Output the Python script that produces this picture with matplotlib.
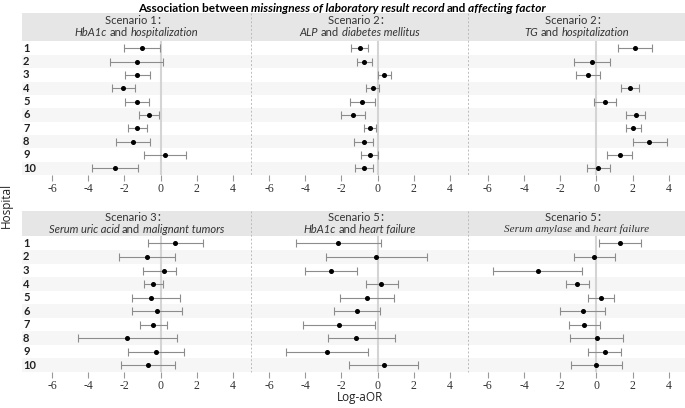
import numpy as np
import matplotlib.pyplot as plt
from matplotlib.offsetbox import TextArea, HPacker, AnnotationBbox
from matplotlib.lines import Line2D
from matplotlib.patches import Rectangle

plt.rcParams['axes.unicode_minus'] = False

W, H = 685, 408
SANS = ['Lato', 'Noto Sans CJK SC', 'DejaVu Sans']
SERIF = ['Liberation Serif', 'Noto Sans CJK SC']

hospitals = [str(i) for i in range(1, 11)]
ticks = [-6, -4, -2, 0, 2, 4]

# log-aOR estimates with 95% CI, hospitals 1..10
s1_est = [-1.01, -1.33, -1.33, -2.07, -1.33, -0.65, -1.29, -1.53, 0.22, -2.53]
s1_lo = [-2.03, -2.77, -1.99, -2.68, -1.96, -1.20, -1.81, -2.44, -0.92, -3.78]
s1_hi = [-0.04, 0.15, -0.59, -1.42, -0.65, -0.09, -0.77, -0.59, 1.38, -1.24]

s2a_est = [-0.98, -0.76, 0.35, -0.28, -0.85, -1.38, -0.42, -0.77, -0.42, -0.76]
s2a_lo = [-1.47, -1.16, 0.00, -0.64, -1.53, -2.04, -0.74, -1.29, -0.92, -1.25]
s2a_hi = [-0.52, -0.33, 0.72, 0.09, -0.17, -0.68, -0.06, -0.24, 0.04, -0.24]

s2b_est = [2.12, -0.24, -0.46, 1.85, 0.50, 2.20, 2.03, 2.92, 1.29, 0.09]
s2b_lo = [1.20, -1.24, -1.11, 1.35, -0.11, 1.66, 1.61, 2.03, 0.59, -0.52]
s2b_hi = [3.08, 0.74, 0.22, 2.36, 1.07, 2.70, 2.49, 3.88, 1.99, 0.74]

s3_est = [0.79, -0.77, 0.18, -0.40, -0.51, -0.22, -0.44, -1.83, -0.28, -0.70]
s3_lo = [-0.68, -2.29, -0.95, -0.92, -1.56, -1.60, -1.16, -4.57, -1.78, -2.17]
s3_hi = [2.33, 0.79, 0.83, 0.15, 1.06, 1.19, 0.37, 0.92, 1.28, 0.79]

s5a_est = [-2.19, -0.07, -2.57, 0.20, -0.61, -1.15, -2.14, -1.17, -2.81, 0.33]
s5a_lo = [-4.52, -2.83, -4.00, -0.65, -2.10, -2.42, -4.14, -2.75, -5.06, -1.56]
s5a_hi = [0.17, 2.73, -1.12, 1.12, 0.89, 0.15, -0.13, 0.99, -0.52, 2.23]

s5b_est = [1.32, -0.13, -3.23, -1.08, 0.26, -0.76, -0.67, 0.02, 0.45, 0.00]
s5b_lo = [0.17, -1.25, -5.69, -1.67, -0.46, -2.03, -1.51, -1.45, -0.46, -1.39]
s5b_hi = [2.47, 1.02, -0.80, -0.43, 0.97, 0.50, 0.22, 1.49, 1.36, 1.43]

titles = ['Scenario 1：', 'Scenario 2：', 'Scenario 2：',
          'Scenario 3：', 'Scenario 5：', 'Scenario 5：']
subtitles = [
    [('HbA1c', True), ('and', False), ('hospitalization', True)],
    [('ALP', True), ('and', False), ('diabetes mellitus', True)],
    [('TG', True), ('and', False), ('hospitalization', True)],
    [('Serum uric acid', True), ('and', False), ('malignant tumors', True)],
    [('HbA1c', True), ('and', False), ('heart failure', True)],
    [('Serum amylase', True), ('and', False), ('heart failure', True)],
]
data = [(s1_est, s1_lo, s1_hi), (s2a_est, s2a_lo, s2a_hi), (s2b_est, s2b_lo, s2b_hi),
        (s3_est, s3_lo, s3_hi), (s5a_est, s5a_lo, s5a_hi), (s5b_est, s5b_lo, s5b_hi)]

fig = plt.figure(figsize=(W / 100, H / 100), dpi=100)


def rect(x0, y0, x1, y1):
    return [x0 / W, 1 - y1 / H, (x1 - x0) / W, (y1 - y0) / H]


def mixed(x, y, pieces, size, family, weight='normal', color='#333333', sep=0.25):
    areas = [TextArea(t, textprops=dict(fontsize=size, fontstyle='italic' if it else 'normal',
                                        family=family, fontweight=weight, color=color))
             for t, it in pieces]
    box = HPacker(children=areas, align='baseline', pad=0, sep=size * sep)
    ab = AnnotationBbox(box, (x / W, 1 - y / H), xycoords='figure fraction',
                        frameon=False, box_alignment=(0.5, 0.5), pad=0)
    fig.add_artist(ab)


cols = [(34, 251, (-7, 5)), (251, 468, (-7, 5)), (468, 685, (-7.1, 4.9))]
hdr_x = [(22, 251), (251, 468), (468, 685)]
rows = [((13, 41), (41, 175)), ((211, 236), (236, 372))]

for r, ((hy0, hy1), (ay0, ay1)) in enumerate(rows):
    fig.add_artist(Rectangle((22 / W, 1 - hy1 / H), (685 - 22) / W, (hy1 - hy0) / H,
                             transform=fig.transFigure, facecolor='#e6e6e6',
                             edgecolor='none', zorder=0))
    for c, (x0, x1, xl) in enumerate(cols):
        k = r * 3 + c
        est, lo, hi = (np.array(v) for v in data[k])
        ax = fig.add_axes(rect(x0, ay0, x1, ay1))
        ax.set_facecolor('none')
        y = np.arange(1, 11)
        xmin = -(x0 - 22) / (x1 - x0) if c == 0 else 0
        for i in range(2, 11, 2):
            ax.axhspan(i - 0.5, i + 0.5, xmin=xmin, xmax=1, color='#f6f6f6',
                       zorder=0, clip_on=False, lw=0)
        ax.axvline(0, color='#d4d4d4', lw=1.5, zorder=1)
        ax.errorbar(est, y, xerr=[est - lo, hi - est], fmt='o', color='black', ms=2.6,
                    ecolor='#8c8c8c', elinewidth=0.8, capsize=3, capthick=0.8, zorder=3)
        ax.set_xlim(xl)
        ax.set_ylim(10.5, 0.45)
        ax.set_xticks(ticks)
        ax.set_yticks([])
        for s in ax.spines.values():
            s.set_visible(False)
        ax.tick_params(axis='x', length=4, color='#999999', width=0.8, labelsize=8.5,
                       pad=2, labelcolor='#333333', labelfontfamily='Liberation Serif')
        # header texts
        hx = (hdr_x[c][0] + hdr_x[c][1]) / 2
        hc = (hy0 + hy1) / 2
        fam = SERIF if k == 5 else SANS
        fig.text(hx / W, 1 - (hc - 6) / H, titles[k], ha='center', va='center',
                 fontsize=8, family=SANS, color='#333333')
        mixed(hx, hc + 6, subtitles[k], 8, fam)
        if c == 0:
            for i, h in enumerate(hospitals):
                yy = ay0 + (i + 1 - 0.45) * (ay1 - ay0) / (10.5 - 0.45)
                fig.text(23 / W, 1 - yy / H, h, ha='left', va='center', fontsize=8,
                         fontweight='bold', family=SANS, color='#222222')
    # dashed separators
    for sx in (251, 468):
        fig.add_artist(Line2D([sx / W, sx / W], [1 - hy0 / H, 1 - ay1 / H],
                              transform=fig.transFigure, ls=(0, (2, 2)),
                              color='#bbbbbb', lw=0.7))

mixed(342, 8, [('Association between', False),
               ('missingness of laboratory result record', True),
               ('and', False), ('affecting factor', True)],
      8.6, SANS, weight='bold', color='black', sep=0.2)

fig.text(6 / W, 1 - 205 / H, 'Hospital', rotation=90, ha='center', va='center',
         fontsize=8.5, family=['Open Sans'], color='#222222')
fig.text(360 / W, 1 - 398 / H, 'Log-aOR', ha='center', va='center',
         fontsize=8.5, family=['Open Sans'], color='#222222')

fig.savefig('out.png', dpi=100)
